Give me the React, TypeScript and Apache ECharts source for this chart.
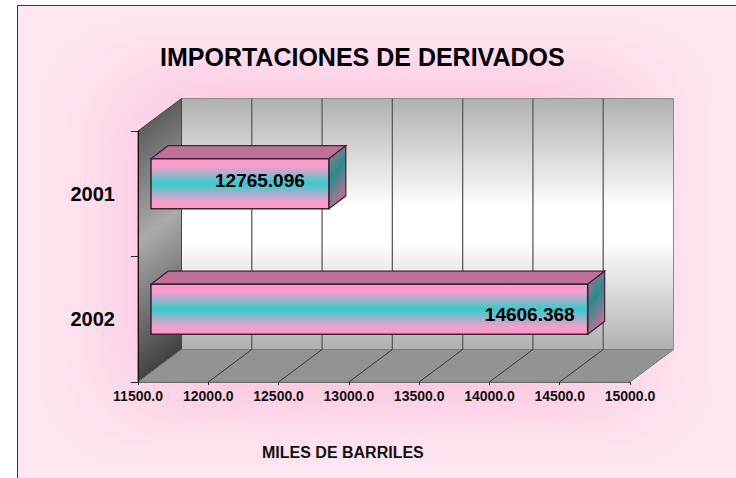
import React, { useEffect, useRef } from "react";
import * as echarts from "echarts";

const categories = ["2001", "2002"];
const barValues = [12765.096, 14606.368];
const valueLabels = ["12765.096", "14606.368"];
const axisMin = 11500;
const axisMax = 15000;
const axisStep = 500;
const gridTicks = [11500, 12000, 12500, 13000, 13500, 14000, 14500, 15000];

const FONT = "Liberation Sans, Arial, sans-serif";
const WALL_DX = 43.5;
const WALL_DY = -32.5;
const BAR_OFFSET_X = 13;
const BAR_OFFSET_Y = -10;
const BAR_DX = 17;
const BAR_DY = -13;
const BAR_THICK = 0.4;
const LABEL_END_GAP = [24, 13];
const LABEL_SHIFT_Y = [-3, 5];

const lerp = (a: number, b: number, t: number) => Math.round(a + (b - a) * t);

function backgroundRects() {
  const steps = 40;
  const left = 18, top = 6, right = 736, bottom = 478;
  const halfW = (right - left) / 2;
  const halfH = (bottom - top) / 2;
  const out: any[] = [];
  for (let i = 0; i < steps; i++) {
    const t = (i / (steps - 1)) * 0.44;
    const c = Math.pow(Math.min(1, t / 0.42), 1.5);
    out.push({
      type: "rect",
      silent: true,
      shape: {
        x: left + halfW * t,
        y: top + halfH * t,
        width: (right - left) - 2 * halfW * t,
        height: (bottom - top) - 2 * halfH * t,
        r: i === 0 ? 0 : 90,
      },
      style: { fill: `rgb(${lerp(254, 252, c)},${lerp(231, 199, c)},${lerp(243, 223, c)})` },
    });
  }
  return out;
}

function renderWalls(params: any, api: any) {
  const cs = params.coordSys;
  const x0 = cs.x, y0 = cs.y, x1 = cs.x + cs.width, y1 = cs.y + cs.height;
  const children: any[] = [];
  children.push({
    type: "polygon",
    shape: { points: [[x0 + WALL_DX, y0 + WALL_DY], [x1 + WALL_DX, y0 + WALL_DY], [x1 + WALL_DX, y1 + WALL_DY], [x0 + WALL_DX, y1 + WALL_DY]] },
    style: {
      fill: new echarts.graphic.LinearGradient(0, 0, 0, 1, [
        { offset: 0, color: "#b0b0b0" },
        { offset: 0.43, color: "#ffffff" },
        { offset: 0.57, color: "#ffffff" },
        { offset: 1, color: "#b0b0b0" },
      ]),
      stroke: "#8a8a8a",
      lineWidth: 1,
    },
  });
  children.push({
    type: "polygon",
    shape: { points: [[x0, y0], [x0 + WALL_DX, y0 + WALL_DY], [x0 + WALL_DX, y1 + WALL_DY], [x0, y1]] },
    style: {
      fill: new echarts.graphic.LinearGradient(0, 0, 0.12, 1, [
        { offset: 0, color: "#484848" },
        { offset: 0.5, color: "#ababab" },
        { offset: 1, color: "#3f3f3f" },
      ]),
      stroke: "#444444",
      lineWidth: 1,
    },
  });
  children.push({
    type: "polygon",
    shape: { points: [[x0, y1], [x1, y1], [x1 + WALL_DX, y1 + WALL_DY], [x0 + WALL_DX, y1 + WALL_DY]] },
    style: { fill: "#939393", stroke: "#7a7a7a", lineWidth: 1 },
  });
  gridTicks.forEach((v) => {
    if (v === axisMin || v === axisMax) return;
    const x = api.coord([v, 0])[0];
    children.push({
      type: "line",
      shape: { x1: x + WALL_DX, y1: y0 + WALL_DY, x2: x + WALL_DX, y2: y1 + WALL_DY },
      style: { stroke: "#5c5c5c", lineWidth: 1.3 },
    });
    children.push({
      type: "line",
      shape: { x1: x, y1: y1, x2: x + WALL_DX, y2: y1 + WALL_DY },
      style: { stroke: "#3a3a3a", lineWidth: 1 },
    });
  });
  return { type: "group", children };
}

function renderBar(params: any, api: any) {
  const idx = api.value(0);
  const value = api.value(1);
  const [xs, yc] = api.coord([axisMin, idx]);
  const [xe] = api.coord([value, idx]);
  const h = api.size([0, 1])[1] * BAR_THICK;
  const l = xs + BAR_OFFSET_X;
  const r = xe + BAR_OFFSET_X;
  const t = yc + BAR_OFFSET_Y - h / 2;
  const b = yc + BAR_OFFSET_Y + h / 2;
  const edge = "#3d2433";
  return {
    type: "group",
    children: [
      {
        type: "polygon",
        shape: { points: [[l, t], [l + BAR_DX, t + BAR_DY], [r + BAR_DX, t + BAR_DY], [r, t]] },
        style: { fill: "#c07098", stroke: edge, lineWidth: 1.2 },
      },
      {
        type: "polygon",
        shape: { points: [[r, t], [r + BAR_DX, t + BAR_DY], [r + BAR_DX, b + BAR_DY], [r, b]] },
        style: {
          fill: new echarts.graphic.LinearGradient(0, 0, 0.35, 1, [
            { offset: 0, color: "#c07098" },
            { offset: 0.5, color: "#2a8a8c" },
            { offset: 1, color: "#c07098" },
          ]),
          stroke: edge,
          lineWidth: 1.2,
        },
      },
      {
        type: "polygon",
        shape: { points: [[l, t], [r, t], [r, b], [l, b]] },
        style: {
          fill: new echarts.graphic.LinearGradient(0, 0, 0, 1, [
            { offset: 0, color: "#ff99cc" },
            { offset: 0.15, color: "#f79dcb" },
            { offset: 0.5, color: "#33cccc" },
            { offset: 0.85, color: "#f79dcb" },
            { offset: 1, color: "#ff99cc" },
          ]),
          stroke: edge,
          lineWidth: 1.5,
        },
      },
      {
        type: "text",
        style: {
          x: r - LABEL_END_GAP[idx],
          y: (t + b) / 2 + LABEL_SHIFT_Y[idx],
          text: valueLabels[idx],
          fill: "#000",
          font: `bold 19px ${FONT}`,
          textAlign: "right",
          textVerticalAlign: "middle",
        },
      },
    ],
  };
}

export default function App() {
  const ref = useRef<HTMLDivElement>(null);
  useEffect(() => {
    const chart = echarts.init(ref.current!, undefined, { renderer: "svg" });
    chart.setOption({
      animation: false,
      backgroundColor: "#ffffff",
      title: [
        {
          text: "IMPORTACIONES DE DERIVADOS",
          left: 155,
          top: 39,
          textStyle: { fontFamily: FONT, fontWeight: "bold", fontSize: 25, color: "#000" },
        },
        {
          text: "MILES DE BARRILES",
          left: 257,
          top: 439,
          textStyle: { fontFamily: FONT, fontWeight: "bold", fontSize: 16, color: "#111" },
        },
      ],
      graphic: {
        elements: [
          ...backgroundRects(),
          {
            type: "polyline",
            silent: true,
            shape: { points: [[17.5, 478], [17.5, 5.5], [736, 5.5]] },
            style: { stroke: "#3a3035", lineWidth: 1, fill: "none" },
          },
        ],
      },
      grid: { left: 138, top: 131, width: 492, height: 251, containLabel: false },
      xAxis: {
        type: "value",
        min: axisMin,
        max: axisMax,
        interval: axisStep,
        z: 5,
        splitLine: { show: false },
        axisLine: { show: true, lineStyle: { color: "#6a6a6a", width: 1 } },
        axisTick: { show: true, length: 3, lineStyle: { color: "#222" } },
        axisLabel: {
          margin: 7,
          fontFamily: FONT,
          fontWeight: "bold",
          fontSize: 14,
          color: "#111",
          formatter: (v: number) => v.toFixed(1),
        },
      },
      yAxis: {
        type: "category",
        inverse: true,
        data: categories,
        z: 5,
        axisLine: { show: true, lineStyle: { color: "#111", width: 1 } },
        axisTick: { show: true, length: 7, lineStyle: { color: "#222" } },
        axisLabel: { margin: 23, padding: [3, 0, 0, 0], fontFamily: FONT, fontWeight: "bold", fontSize: 20, color: "#000" },
      },
      series: [
        {
          type: "custom",
          name: "walls",
          z: 1,
          silent: true,
          clip: false,
          renderItem: renderWalls,
          data: [[axisMin, 0]],
          encode: { x: 0, y: 1 },
        },
        {
          type: "custom",
          name: "MILES DE BARRILES",
          z: 3,
          clip: false,
          renderItem: renderBar,
          data: barValues.map((v, i) => [i, v]),
          encode: { x: 1, y: 0 },
        },
      ],
    });
    return () => chart.dispose();
  }, []);
  return <div ref={ref} style={{ position: "absolute", left: 0, top: 0, width: 736, height: 478 }} />;
}
